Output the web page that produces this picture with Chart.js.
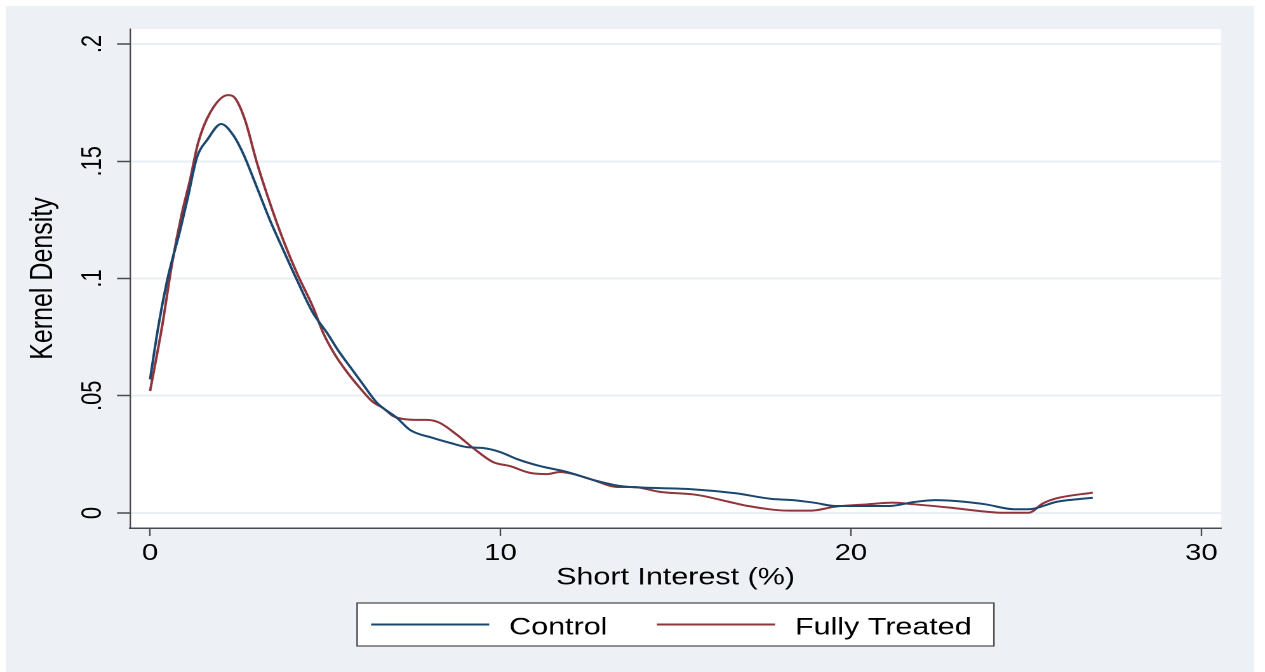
<!DOCTYPE html>
<html><head><meta charset="utf-8">
<script src="https://cdn.jsdelivr.net/npm/chart.js@4/dist/chart.umd.min.js"></script>
<style>
html,body{margin:0;padding:0;background:#fff;width:1265px;height:672px;overflow:hidden;}
#bg{position:absolute;left:6px;top:6px;width:1248px;height:666px;background:#edf1f6;}
#wrap{position:absolute;left:0;top:0;width:996px;height:672px;transform:scaleX(1.27);transform-origin:0 0;}
</style></head><body>
<div id="bg"></div>
<div id="wrap"><canvas id="c"></canvas></div>
<script>
const seriesNames = ['Control', 'Fully Treated'];
const controlX = [0, 0.23, 0.51, 0.86, 1.08, 1.34, 1.63, 2.03, 2.37, 2.65, 3.00, 3.42, 3.80, 4.19, 4.65, 5.05, 5.36, 5.71, 6.05, 6.48, 7.05, 7.42, 8.07, 8.56, 9.04, 9.50, 9.99, 10.47, 11.13, 11.90, 12.64, 13.41, 14.35, 15.41, 16.71, 17.73, 18.34, 18.95, 19.56, 20.28, 21.09, 21.81, 22.42, 23.23, 23.84, 24.66, 25.07, 25.88, 26.90];
const controlY = [0.057, 0.079, 0.1006, 0.1207, 0.1348, 0.1518, 0.1591, 0.1659, 0.1612, 0.1535, 0.1407, 0.1249, 0.1122, 0.0994, 0.0853, 0.0768, 0.0695, 0.0623, 0.0554, 0.0469, 0.0405, 0.0354, 0.0320, 0.0299, 0.0281, 0.0277, 0.0260, 0.0230, 0.0200, 0.0175, 0.0141, 0.0115, 0.0107, 0.0102, 0.0084, 0.0060, 0.0055, 0.0044, 0.0030, 0.0030, 0.0030, 0.0047, 0.0055, 0.0048, 0.0037, 0.0016, 0.0016, 0.0048, 0.0065];
const treatedX = [0, 0.34, 0.63, 0.91, 1.14, 1.37, 1.71, 2.22, 2.42, 2.71, 3.05, 3.42, 3.80, 4.19, 4.65, 4.94, 5.28, 5.62, 5.99, 6.36, 6.65, 6.93, 7.22, 7.70, 7.90, 8.27, 8.76, 9.22, 9.79, 10.27, 10.84, 11.33, 11.70, 12.18, 12.64, 13.32, 13.78, 14.55, 15.61, 16.51, 17.02, 18.24, 18.85, 19.56, 20.48, 21.20, 21.81, 22.82, 23.84, 24.35, 25.07, 25.48, 25.88, 26.90];
const treatedY = [0.052, 0.0793, 0.1066, 0.1279, 0.1420, 0.1578, 0.1706, 0.1782, 0.1770, 0.1676, 0.1493, 0.1322, 0.1164, 0.1023, 0.0878, 0.0768, 0.0674, 0.0601, 0.0533, 0.0473, 0.0448, 0.0414, 0.0401, 0.0397, 0.0397, 0.0384, 0.0333, 0.0277, 0.0217, 0.0200, 0.0171, 0.0166, 0.0175, 0.0162, 0.0141, 0.0111, 0.0111, 0.0090, 0.0077, 0.0048, 0.0031, 0.0010, 0.0010, 0.0027, 0.0037, 0.0044, 0.0037, 0.0023, 0.0006, 0.0001, 0.0001, 0.0041, 0.0063, 0.0087];
const xTicks = [0, 10, 20, 30];
const xTickLabels = ['0', '10', '20', '30'];
const yTicks = [0, 0.05, 0.1, 0.15, 0.2];
const yTickLabels = ['0', '.05', '.1', '.15', '.2'];
const xTitle = 'Short Interest (%)';
const yTitle = 'Kernel Density';

const FONT = "'Liberation Sans', Arial, sans-serif";
const AXIS = '#4a4a4a';

const deco = {
  id: 'deco',
  beforeDraw(chart) {
    const {ctx, chartArea: a} = chart;
    ctx.save();
    ctx.fillStyle = '#ffffff';
    ctx.fillRect(a.left, a.top, a.right - a.left, a.bottom - a.top);
    ctx.restore();
  },
  afterDraw(chart) {
    const ctx = chart.ctx;
    const ys = chart.scales.y;
    const a = chart.chartArea;
    ctx.save();
    // rotated y tick labels
    ctx.fillStyle = '#000';
    ctx.font = '22px ' + FONT;
    ctx.textAlign = 'center';
    ctx.textBaseline = 'alphabetic';
    yTicks.forEach((v, i) => {
      const py = ys.getPixelForValue(v);
      ctx.save();
      ctx.translate(79.5, py);
      ctx.rotate(-Math.PI / 2);
      ctx.fillText(yTickLabels[i], 0, 0);
      ctx.restore();
    });
    // legend box
    ctx.font = '24px ' + FONT;
    const pad = 11, lineLen = 93, gap = 15.7, itemGap = 39, rightPad = 17.5;
    const ds = chart.data.datasets;
    const widths = ds.map(d => ctx.measureText(d.label).width);
    let total = pad + rightPad + itemGap * (ds.length - 1);
    ds.forEach((d, i) => { total += lineLen + gap + widths[i]; });
    const cx = (a.left + a.right) / 2;
    const left = cx - total / 2, top = 603, bottom = 646, cy = 624.5;
    ctx.fillStyle = '#fff';
    ctx.fillRect(left, top, total, bottom - top);
    ctx.strokeStyle = '#555';
    ctx.lineWidth = 1.3;
    ctx.strokeRect(left, top, total, bottom - top);
    let x = left + pad;
    ds.forEach((d, i) => {
      ctx.strokeStyle = d.borderColor;
      ctx.lineWidth = 2;
      ctx.beginPath();
      ctx.moveTo(x, cy);
      ctx.lineTo(x + lineLen, cy);
      ctx.stroke();
      x += lineLen + gap;
      ctx.fillStyle = '#000';
      ctx.textAlign = 'left';
      ctx.textBaseline = 'alphabetic';
      ctx.fillText(d.label, x, 634.5);
      x += widths[i] + itemGap;
    });
    ctx.restore();
  }
};

new Chart(document.getElementById('c'), {
  type: 'line',
  data: {
    datasets: [
      { label: seriesNames[0], data: controlX.map((x, i) => ({x, y: controlY[i]})), borderColor: '#1a476f', backgroundColor: '#1a476f', borderWidth: 2, pointRadius: 0, cubicInterpolationMode: 'monotone', fill: false },
      { label: seriesNames[1], data: treatedX.map((x, i) => ({x, y: treatedY[i]})), borderColor: '#90353b', backgroundColor: '#90353b', borderWidth: 2, pointRadius: 0, cubicInterpolationMode: 'monotone', fill: false }
    ]
  },
  options: {
    responsive: true,
    maintainAspectRatio: false,
    animation: false,
    devicePixelRatio: 2,
    layout: { padding: { left: 0, right: 34.6, top: 29, bottom: 0 } },
    plugins: { legend: { display: false }, tooltip: { enabled: false } },
    scales: {
      x: {
        type: 'linear', min: -0.571, max: 30.56,
        afterBuildTicks: s => { s.ticks = xTicks.map(v => ({value: v})); },
        afterFit: s => { s.height = 144; },
        ticks: { font: { family: FONT, size: 23 }, color: '#000', padding: 4,
          callback: (v) => { const i = xTicks.indexOf(v); return i >= 0 ? xTickLabels[i] : ''; } },
        grid: { drawOnChartArea: false, drawTicks: true, tickLength: 8, tickColor: AXIS, tickWidth: 1.2 },
        border: { display: true, color: AXIS, width: 1.5 },
        title: { display: true, text: xTitle, color: '#000', font: { family: FONT, size: 24 }, padding: { top: 0, bottom: 79.6 } }
      },
      y: {
        type: 'linear', min: -0.0064, max: 0.2064,
        afterBuildTicks: s => { s.ticks = yTicks.map(v => ({value: v})); },
        afterFit: s => { s.width = 102.4; },
        ticks: { display: false },
        grid: { color: '#e8eef5', lineWidth: 2, drawTicks: true, tickLength: 10.2, tickColor: AXIS, tickWidth: 1.5 },
        border: { display: true, color: AXIS, width: 1.2 },
        title: { display: true, text: yTitle, color: '#000', font: { family: FONT, size: 25 }, padding: { top: 18.9, bottom: 0 } }
      }
    }
  },
  plugins: [deco]
});
</script>
</body></html>
